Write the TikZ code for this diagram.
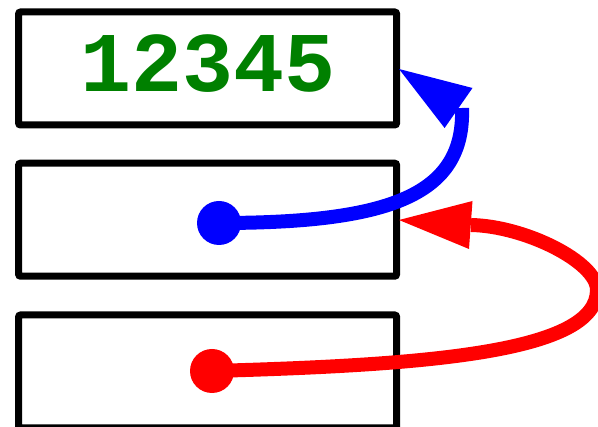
\documentclass[tikz,border=0pt]{standalone}
\usepackage{fontspec}
\newfontfamily\codefont{Liberation Mono}
\definecolor{codegreen}{RGB}{0,128,0}
\begin{document}
\begin{tikzpicture}[x=1pt,y=-1pt,
  cell/.style={draw=black,line width=7pt,rounded corners=2pt,minimum width=378pt,minimum height=113pt,inner sep=0pt,outer sep=0pt},
  value/.style={font=\codefont\bfseries\fontsize{85pt}{85pt}\selectfont,text=codegreen,inner sep=0pt},
  dot/.style={circle,fill=#1,minimum size=44pt,inner sep=0pt},
  link/.style={draw=#1,line width=14pt},
  head/.style={fill=#1}]
  \useasboundingbox (0,0) rectangle (598,427);
  \clip (0,0) rectangle (598,427);

  % three memory cells
  \node[cell] (top) at (207.6,68.5) {};
  \node[cell] (mid) at (207.6,219.7) {};
  \node[cell] (bot) at (207.6,371.5) {};
  \node[value] (num) at (207.6,64) {12345};

  % pointer origins
  \node[dot=blue] (pb) at (219,223) {};
  \node[dot=red]  (pr) at (212,371) {};

  % arrow tips and the ends of the shafts
  \coordinate (tb) at (399,69);
  \coordinate (eb) at (462,108);
  \coordinate (tr) at (399,220);
  \coordinate (er) at (471,225);

  % blue pointer: middle cell -> top cell
  \draw[link=blue] (pb.center) .. controls (390,223) and (465,195) .. (eb);
  \fill[head=blue] (tb) -- (472.5,88) -- (444.6,128) -- cycle;

  % red pointer: bottom cell -> middle cell
  \draw[link=red] (pr.center) .. controls (430,365) and (597,352) .. (597,290)
    .. controls (597,262) and (525,226) .. (er);
  \fill[head=red] (tr) -- (472.5,201) -- (469,249) -- cycle;
\end{tikzpicture}
\end{document}
